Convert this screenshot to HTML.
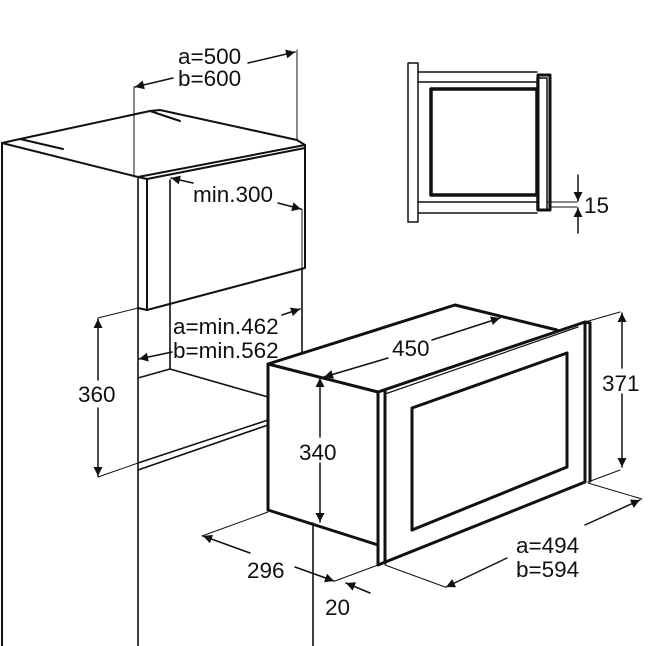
<!DOCTYPE html>
<html><head><meta charset="utf-8"><style>
html,body{margin:0;padding:0;background:#fff}
svg{display:block}
text{font-family:"Liberation Sans",sans-serif;font-size:22.5px;fill:#111}
</style></head><body>
<svg width="652" height="646" viewBox="0 0 652 646" xmlns="http://www.w3.org/2000/svg">
<defs>
<marker id="a" viewBox="0 0 10 10" refX="10" refY="5" markerWidth="13" markerHeight="9" markerUnits="userSpaceOnUse" orient="auto"><path d="M0,0 L10,5 L0,10 z" fill="#111"/></marker>
</defs>
<g stroke="#111" fill="none" stroke-linecap="round" stroke-linejoin="round">
<g stroke-width="2">
<line x1="2" y1="143" x2="2" y2="646"/>
<polyline points="2,143 20,139 150,111 160,110 297,140 305,145 305,268 147,310 138,308"/>
<line x1="2" y1="143" x2="138" y2="177"/>
<line x1="138" y1="177" x2="305" y2="145"/>
<line x1="147" y1="179" x2="305" y2="148"/>
<line x1="20" y1="139" x2="63" y2="149"/>
<line x1="150" y1="111" x2="180" y2="121"/>
<line x1="147" y1="179" x2="147" y2="310"/>
<line x1="138" y1="177" x2="147" y2="179"/>
</g>
<g stroke-width="1.6">
<line x1="138" y1="177" x2="138" y2="646"/>
<line x1="170" y1="180" x2="170" y2="369"/>
<line x1="302" y1="268" x2="302" y2="353"/>
<line x1="138" y1="378" x2="170" y2="369"/>
<line x1="170" y1="369" x2="268" y2="397"/>
<line x1="138" y1="463" x2="268" y2="420"/>
<line x1="138" y1="470" x2="268" y2="425"/>
<line x1="313" y1="523" x2="313" y2="646"/>
</g>
<g stroke-width="1">
<line x1="297" y1="50" x2="297" y2="140"/>
<line x1="134" y1="87" x2="134" y2="177"/>
<line x1="302" y1="209" x2="302" y2="268"/>
<line x1="98" y1="318" x2="138" y2="308"/>
<line x1="98" y1="477" x2="138" y2="463"/>
<line x1="202" y1="536" x2="268" y2="512"/>
<line x1="335" y1="581" x2="378" y2="565"/>
<line x1="385" y1="565" x2="445" y2="587"/>
<line x1="588" y1="483" x2="642" y2="499"/>
<line x1="585" y1="322" x2="620" y2="312"/>
<line x1="588" y1="482" x2="620" y2="470"/>
</g>
<g stroke-width="1.5" marker-end="url(#a)">
<line x1="248" y1="63" x2="295" y2="52"/>
<line x1="173" y1="78" x2="135" y2="87"/>
<line x1="193" y1="183" x2="171" y2="178"/>
<line x1="278" y1="203" x2="301" y2="209"/>
<line x1="282" y1="315" x2="300" y2="309"/>
<line x1="172" y1="352" x2="139" y2="359"/>
<line x1="98" y1="380" x2="98" y2="319"/>
<line x1="98" y1="408" x2="98" y2="476"/>
<line x1="250" y1="553" x2="203" y2="536"/>
<line x1="295" y1="567" x2="334" y2="581"/>
<line x1="370" y1="593" x2="346" y2="583"/>
<line x1="388" y1="358" x2="324" y2="377"/>
<line x1="432" y1="340" x2="500" y2="318"/>
<line x1="320" y1="437" x2="320" y2="378"/>
<line x1="320" y1="463" x2="320" y2="522"/>
<line x1="622" y1="368" x2="622" y2="313"/>
<line x1="622" y1="394" x2="622" y2="467"/>
<line x1="585" y1="525" x2="640" y2="500"/>
<line x1="507" y1="558" x2="446" y2="587"/>
</g>
<g stroke-width="3">
<polyline points="378,392 268,364 455,305 557,330"/>
<polyline points="268,364 268,510 378,545"/>
<polygon points="378,392 585,322 585,482 378,565"/>
<line x1="385" y1="390" x2="385" y2="563"/>
<line x1="412" y1="408" x2="567" y2="353"/>
<line x1="567" y1="353" x2="567" y2="467"/>
<line x1="567" y1="467" x2="412" y2="530"/>
<line x1="412" y1="530" x2="412" y2="408"/>
</g>
<line x1="385" y1="394" x2="578" y2="327" stroke-width="1.2"/>
<line x1="585" y1="322" x2="590" y2="323" stroke-width="3"/>
<line x1="590" y1="323" x2="590" y2="481" stroke-width="3"/>
<g stroke-width="1.5">
<rect x="408" y="63" width="10" height="159"/>
<line x1="418" y1="72" x2="537" y2="72"/>
<line x1="418" y1="82" x2="537" y2="82"/>
<line x1="418" y1="202" x2="537" y2="202"/>
<line x1="418" y1="213" x2="537" y2="213"/>
<rect x="537" y="78" width="10" height="132"/>
</g>
<rect x="431" y="89" width="106" height="106" stroke-width="3.5"/>
<rect x="538" y="75" width="12" height="135" stroke-width="3"/>
<g stroke-width="1">
<line x1="547" y1="202" x2="577" y2="202"/>
<line x1="550" y1="207" x2="577" y2="207"/>
</g>
<g stroke-width="1.5" marker-end="url(#a)">
<line x1="578" y1="175" x2="578" y2="201"/>
<line x1="578" y1="233" x2="578" y2="208"/>
</g>
</g>
<text x="178" y="64">a=500</text>
<text x="178" y="86">b=600</text>
<text x="193" y="202">min.300</text>
<text x="173" y="334">a=min.462</text>
<text x="173" y="358">b=min.562</text>
<text x="78" y="402">360</text>
<text x="392" y="356">450</text>
<text x="299" y="460">340</text>
<text x="602" y="391">371</text>
<text x="247" y="578">296</text>
<text x="325" y="615">20</text>
<text x="516" y="553">a=494</text>
<text x="516" y="577">b=594</text>
<text x="584" y="213">15</text>
</svg>
</body></html>
